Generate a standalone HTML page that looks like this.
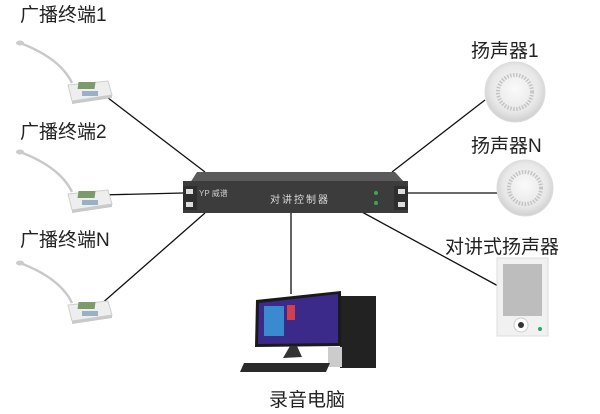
<!DOCTYPE html>
<html><head><meta charset="utf-8"><style>
body{margin:0;background:#fff;width:600px;height:409px;overflow:hidden}
text{font-family:"Liberation Sans","Noto Sans CJK SC",sans-serif;fill:#222}
</style></head><body>
<svg width="600" height="409" viewBox="0 0 600 409" xmlns="http://www.w3.org/2000/svg">
<defs>
<radialGradient id="sp" cx="50%" cy="45%" r="55%"><stop offset="0" stop-color="#fafafa"/><stop offset=".7" stop-color="#e8e8e8"/><stop offset="1" stop-color="#cfcfcf"/></radialGradient>
<g id="term">
<path d="M0,0 Q40,15 52,40" stroke="#c9c9c9" stroke-width="2.5" fill="none"/>
<ellipse cx="0" cy="0" rx="4" ry="2.5" fill="#ccc"/>
<path d="M48,42 L88,38 L92,52 L52,58 Z" fill="#eee" stroke="#cfcfcf"/>
<rect x="64" y="39" width="17" height="7" fill="#7c9a6c" transform="skewX(-8)"/>
<rect x="62" y="48" width="16" height="5" fill="#9ab0c8"/>
<path d="M52,58 L92,52 L92,55 L52,61 Z" fill="#c9c9c9"/>
</g>
</defs>
<g stroke="#111" stroke-width="1.3">
<line x1="95" y1="88" x2="205" y2="172"/>
<line x1="100" y1="195" x2="183" y2="193"/>
<line x1="100" y1="305" x2="205" y2="213"/>
<line x1="485" y1="100" x2="392" y2="172"/>
<line x1="500" y1="193" x2="408" y2="193"/>
<line x1="500" y1="287" x2="362" y2="212"/>
<line x1="291" y1="212" x2="291" y2="294"/>
</g>
<text x="20" y="21" font-size="19">广播终端1</text>
<text x="20" y="138" font-size="19">广播终端2</text>
<text x="20" y="246" font-size="19">广播终端N</text>
<text x="471" y="57" font-size="19">扬声器1</text>
<text x="471" y="152" font-size="19">扬声器N</text>
<text x="445" y="253" font-size="19">对讲式扬声器</text>
<text x="269" y="406" font-size="19">录音电脑</text>
<use href="#term" x="20" y="43"/>
<use href="#term" x="20" y="152"/>
<use href="#term" x="20" y="263"/>
<path d="M197,172 L395,172 L405,183 L190,183 Z" fill="#5a5a5a"/>
<rect x="183" y="181" width="225" height="32" fill="#3c3c3c"/>
<rect x="183" y="186" width="14" height="24" fill="#2e2e2e"/>
<rect x="394" y="186" width="14" height="24" fill="#2e2e2e"/>
<rect x="186" y="189" width="7" height="5" fill="#ddd"/><rect x="186" y="202" width="7" height="5" fill="#ddd"/>
<rect x="398" y="189" width="7" height="5" fill="#ddd"/><rect x="398" y="202" width="7" height="5" fill="#ddd"/>
<text x="199" y="196" font-size="8" style="fill:#ccc">YP 威谱</text>
<text x="270" y="203" font-size="10" style="fill:#ddd" letter-spacing="2">对讲控制器</text>
<circle cx="376" cy="193" r="2" fill="#3a5"/><circle cx="376" cy="203" r="2" fill="#3a5"/>
<circle cx="515" cy="92" r="30" fill="url(#sp)" stroke="#ddd"/>
<circle cx="515" cy="92" r="17" fill="none" stroke="#c4c4c4" stroke-dasharray="1.5 1.5" stroke-width="4"/>
<circle cx="525" cy="188" r="28" fill="url(#sp)" stroke="#ddd"/>
<circle cx="525" cy="188" r="16" fill="none" stroke="#c4c4c4" stroke-dasharray="1.5 1.5" stroke-width="4"/>
<rect x="497" y="258" width="51" height="78" fill="#f1f1f1" stroke="#ddd"/>
<rect x="503" y="264" width="39" height="52" fill="#bdbdbd"/>
<circle cx="521" cy="325" r="7" fill="#fff" stroke="#ccc"/><circle cx="521" cy="325" r="3" fill="#333"/>
<circle cx="540" cy="329" r="2" fill="#2a6"/>
<rect x="340" y="296" width="36" height="72" fill="#222"/>
<rect x="328" y="347" width="14" height="20" fill="#ccc"/>
<path d="M256,300 L341,291 L341,346 L255,347 Z" fill="#1a1a1a"/>
<path d="M259,303 L338,294 L338,343 L258,344 Z" fill="#3b2a8a"/>
<rect x="264" y="306" width="20" height="30" fill="#3a8ad0"/>
<rect x="287" y="305" width="8" height="15" fill="#d04050"/>
<path d="M297,346 L302,357 L283,358 L290,346 Z" fill="#333"/>
<path d="M244,363 L330,363 L326,372 L240,372 Z" fill="#2a2a2a"/>
</svg>
</body></html>
